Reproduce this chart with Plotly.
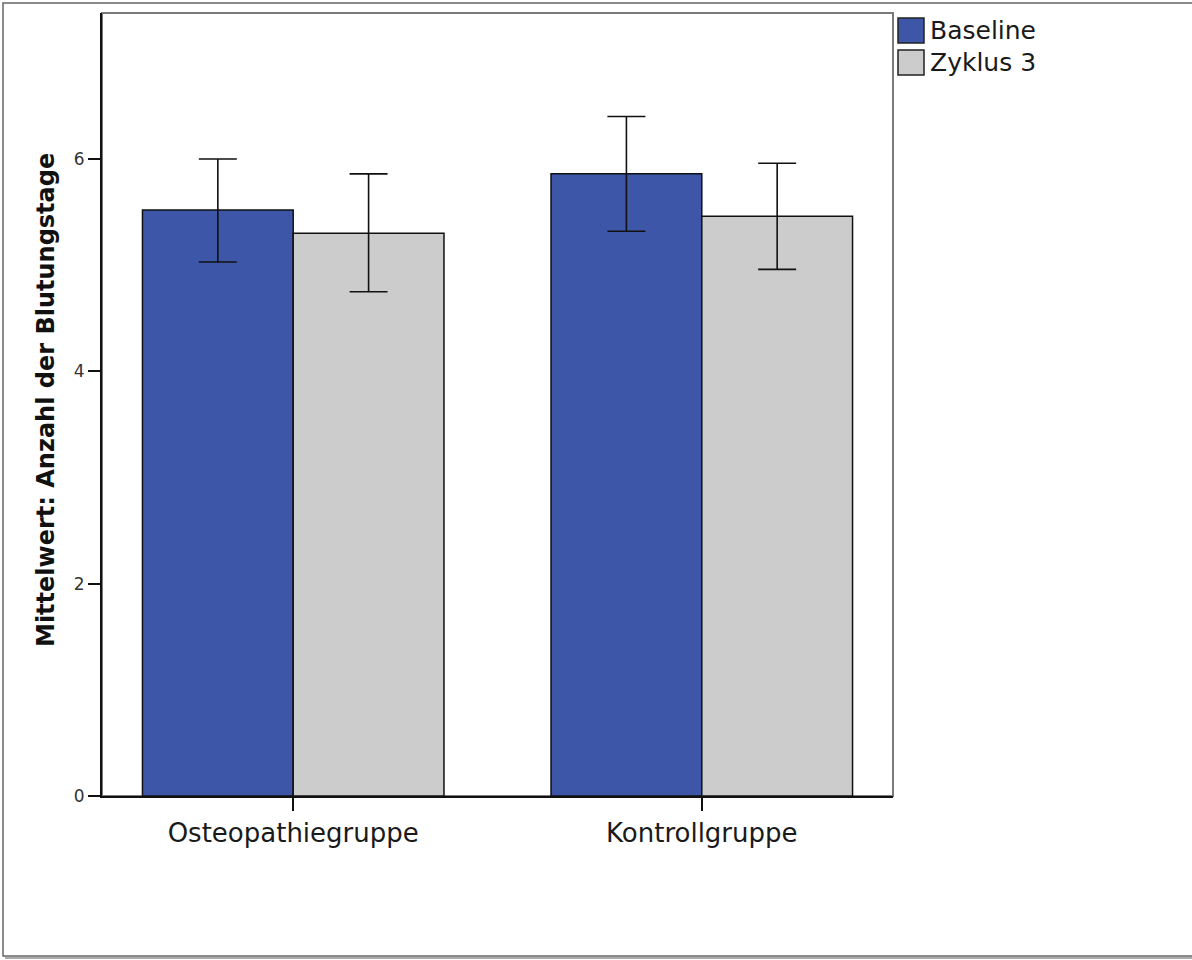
import plotly.graph_objects as go

# ---- data ----
categories = ["Osteopathiegruppe", "Kontrollgruppe"]
series_names = ["Baseline", "Zyklus 3"]
baseline_mean = [5.52, 5.86]
baseline_ci_upper = [6.00, 6.40]
baseline_ci_lower = [5.03, 5.32]
zyklus3_mean = [5.30, 5.46]
zyklus3_ci_upper = [5.86, 5.96]
zyklus3_ci_lower = [4.75, 4.96]
y_ticks = [0, 2, 4, 6]

colors = ["#3D56A8", "#CCCCCC"]
FONT = "DejaVu Sans"

W, H = 1192, 960
L, R, T, B = 102, 299, 13, 164
pw, ph = W - L - R, H - T - B


def px(x):
    return (x - L) / pw


def py(y):
    return (H - B - y) / ph


fig = go.Figure()
for name, mean, up, lo, col in [
    (series_names[0], baseline_mean, baseline_ci_upper, baseline_ci_lower, colors[0]),
    (series_names[1], zyklus3_mean, zyklus3_ci_upper, zyklus3_ci_lower, colors[1]),
]:
    fig.add_trace(go.Bar(
        name=name,
        x=categories,
        y=mean,
        marker=dict(color=col, line=dict(color="#111111", width=1.5)),
        error_y=dict(
            type="data",
            symmetric=False,
            array=[u - m for u, m in zip(up, mean)],
            arrayminus=[m - l for m, l in zip(mean, lo)],
            color="#111111",
            thickness=1.6,
            width=19,
        ),
    ))

fig.update_layout(
    width=W,
    height=H,
    margin=dict(l=L, r=R, t=T, b=B, pad=0),
    paper_bgcolor="white",
    plot_bgcolor="white",
    barmode="group",
    bargap=0.262,
    bargroupgap=0,
    showlegend=False,
    font=dict(family=FONT, color="#222222"),
    xaxis=dict(
        type="category",
        range=[-0.468, 1.468],
        showline=True,
        linecolor="#111111",
        linewidth=2,
        ticks="outside",
        ticklen=13,
        tickwidth=1.5,
        tickcolor="#111111",
        tickfont=dict(size=26, color="#1a1a1a", family=FONT),
        showgrid=False,
        zeroline=False,
    ),
    yaxis=dict(
        range=[0, 7.375],
        tickvals=y_ticks,
        ticktext=[str(v) for v in y_ticks],
        showline=True,
        linecolor="#111111",
        linewidth=2,
        ticks="outside",
        ticklen=12,
        tickwidth=1.5,
        tickcolor="#111111",
        tickfont=dict(size=17, color="#333333", family=FONT),
        showgrid=False,
        zeroline=False,
    ),
)

shapes = [
    # plot frame (top/right in gray)
    dict(type="rect", xref="paper", yref="paper", x0=0, x1=1, y0=0, y1=1,
         line=dict(color="#7a7a7a", width=2), layer="below"),
    # outer picture frame with a light bottom shadow
    dict(type="line", xref="paper", yref="paper", x0=px(5), x1=px(1200),
         y0=py(958), y1=py(958), line=dict(color="#aaaaaa", width=2)),
    dict(type="rect", xref="paper", yref="paper", x0=px(3), x1=px(1200),
         y0=py(956), y1=py(3), line=dict(color="#666666", width=1.5)),
]

# manual legend (large swatches)
leg_boxes = [(18, 43), (50, 75)]
for (y0, y1), col, name in zip(leg_boxes, colors, series_names):
    shapes.append(dict(type="rect", xref="paper", yref="paper",
                       x0=px(898), x1=px(924), y0=py(y1), y1=py(y0),
                       fillcolor=col, line=dict(color="#222222", width=1.5)))
    fig.add_annotation(xref="paper", yref="paper", x=px(928), y=py((y0 + y1) / 2),
                       text=name, showarrow=False, xanchor="left", yanchor="middle",
                       font=dict(size=25, family=FONT, color="#1a1a1a"))

fig.update_layout(shapes=shapes)

fig.add_annotation(xref="paper", yref="paper", x=px(46), y=py(400),
                   text="<b>Mittelwert: Anzahl der Blutungstage</b>", textangle=-90,
                   showarrow=False, xanchor="center", yanchor="middle",
                   font=dict(size=24, family=FONT, color="#111111"))

fig.write_html("out.html", config={"displayModeBar": False},
               post_script="document.body.style.margin='0';")
